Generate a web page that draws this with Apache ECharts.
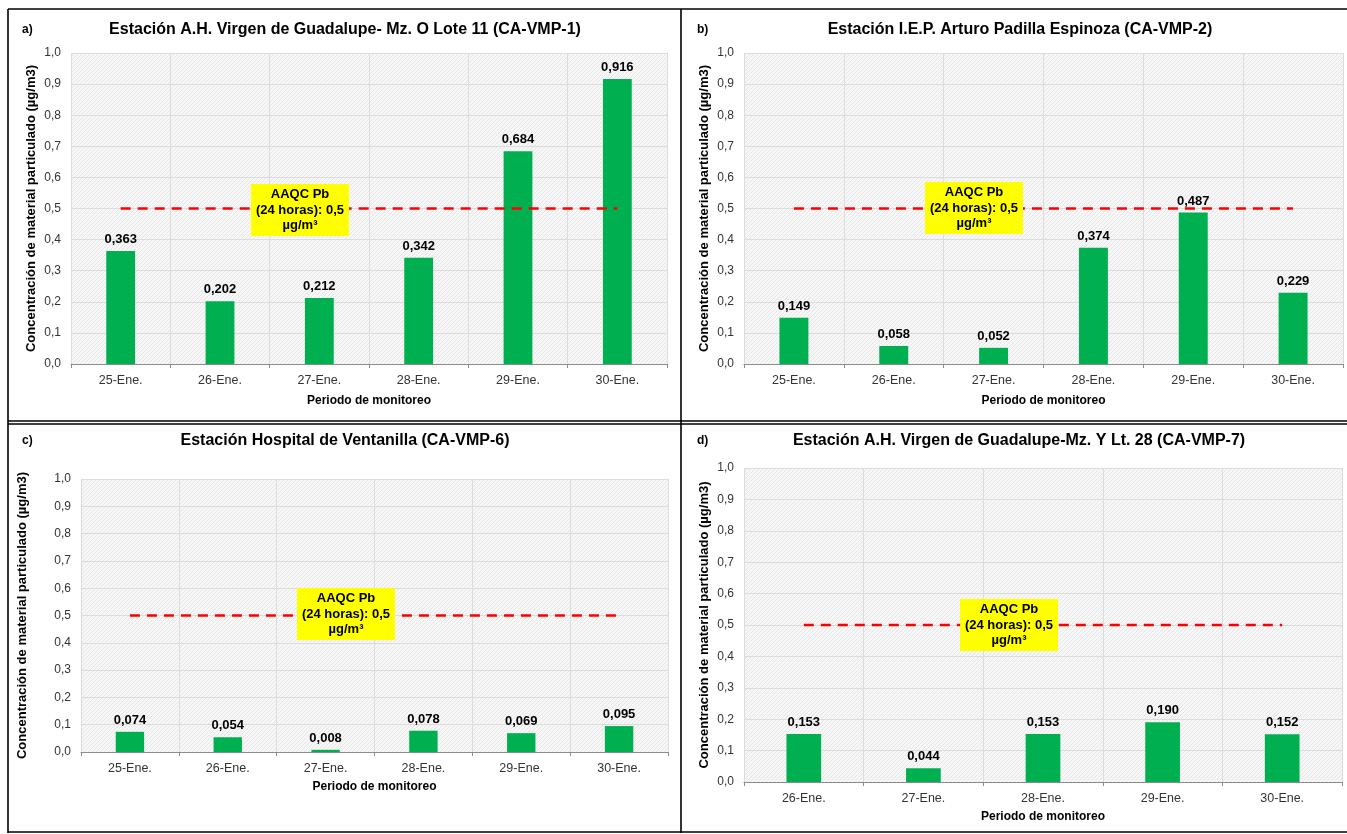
<!DOCTYPE html>
<html>
<head>
<meta charset="utf-8">
<script src="https://cdn.jsdelivr.net/npm/echarts@6/dist/echarts.min.js"></script>
<style>
html,body{margin:0;padding:0;background:#fff;}
#c{width:1347px;height:834px;}
</style>
</head>
<body>
<div id="c"></div>
<script>
// ---- data ----
const catsA = ['25-Ene.', '26-Ene.', '27-Ene.', '28-Ene.', '29-Ene.', '30-Ene.'];
const valsA = [0.363, 0.202, 0.212, 0.342, 0.684, 0.916];
const catsB = ['25-Ene.', '26-Ene.', '27-Ene.', '28-Ene.', '29-Ene.', '30-Ene.'];
const valsB = [0.149, 0.058, 0.052, 0.374, 0.487, 0.229];
const catsC = ['25-Ene.', '26-Ene.', '27-Ene.', '28-Ene.', '29-Ene.', '30-Ene.'];
const valsC = [0.074, 0.054, 0.008, 0.078, 0.069, 0.095];
const catsD = ['26-Ene.', '27-Ene.', '28-Ene.', '29-Ene.', '30-Ene.'];
const valsD = [0.153, 0.044, 0.153, 0.190, 0.152];
const limitValue = 0.5;
const titles = [
  'Estación A.H. Virgen de Guadalupe- Mz. O Lote 11 (CA-VMP-1)',
  'Estación I.E.P. Arturo Padilla Espinoza (CA-VMP-2)',
  'Estación Hospital de Ventanilla (CA-VMP-6)',
  'Estación A.H. Virgen de Guadalupe-Mz. Y Lt. 28 (CA-VMP-7)'
];
const panelLetters = ['a)', 'b)', 'c)', 'd)'];
const yName = 'Concentración de material particulado (µg/m3)';
const xName = 'Periodo de monitoreo';
const noteText = 'AAQC Pb\n(24 horas): 0,5\nµg/m³';

// ---- style ----
const FONT = '"Liberation Sans", Arial, sans-serif';
const chart = echarts.init(document.getElementById('c'), null, {renderer: 'canvas'});

// hatched background pattern
const pc = document.createElement('canvas');
pc.width = 4; pc.height = 4;
const pctx = pc.getContext('2d');
pctx.fillStyle = '#f7f7f7'; pctx.fillRect(0, 0, 4, 4);
pctx.strokeStyle = '#e6e6e6'; pctx.lineWidth = 1;
pctx.beginPath(); pctx.moveTo(0, 4); pctx.lineTo(4, 0); pctx.stroke();
pctx.beginPath(); pctx.moveTo(-1, 1); pctx.lineTo(1, -1); pctx.stroke();
pctx.beginPath(); pctx.moveTo(3, 5); pctx.lineTo(5, 3); pctx.stroke();

const grids = [
  {left: 71, width: 596, top: 53, height: 311, nameGap: 33, xGap: 31},
  {left: 744, width: 599, top: 53, height: 311, nameGap: 33, xGap: 31},
  {left: 81, width: 587, top: 479, height: 273, nameGap: 52, xGap: 29},
  {left: 744, width: 598, top: 468, height: 314, nameGap: 33, xGap: 29}
];
const cats = [catsA, catsB, catsC, catsD];
const vals = [valsA, valsB, valsC, valsD];
const fmt1 = v => v.toFixed(1).replace('.', ',');
const fmt3 = v => v.toFixed(3).replace('.', ',');

const option = {
  backgroundColor: '#fff',
  animation: false,
  textStyle: {fontFamily: FONT},
  grid: grids.map(g => ({
    left: g.left, top: g.top, width: g.width, height: g.height,
    show: true, backgroundColor: {image: pc, repeat: 'repeat'}, borderWidth: 0
  })),
  xAxis: grids.map((g, i) => ({
    type: 'category', gridIndex: i, data: cats[i],
    name: xName, nameLocation: 'middle', nameGap: g.xGap,
    nameTextStyle: {fontFamily: FONT, fontWeight: 'bold', fontSize: 12, color: '#000'},
    axisLine: {lineStyle: {color: '#8c8c8c', width: 1}},
    axisTick: {show: true, length: 4, lineStyle: {color: '#8c8c8c'}},
    axisLabel: {fontFamily: FONT, fontSize: 12.5, color: '#333', margin: 10},
    splitLine: {show: true, lineStyle: {color: '#dcdcdc', width: 1}}
  })),
  yAxis: grids.map((g, i) => ({
    type: 'value', gridIndex: i, min: 0, max: 1, interval: 0.1,
    name: yName, nameLocation: 'middle', nameGap: g.nameGap,
    nameTextStyle: {fontFamily: FONT, fontWeight: 'bold', fontSize: 13, color: '#000'},
    axisLine: {show: false}, axisTick: {show: false},
    axisLabel: {fontFamily: FONT, fontSize: 12, color: '#333', margin: 10, formatter: fmt1},
    splitLine: {show: true, lineStyle: {color: '#dcdcdc', width: 1}}
  })),
  series: [],
  graphic: []
};

vals.forEach((v, i) => {
  option.series.push({
    type: 'bar', xAxisIndex: i, yAxisIndex: i, data: v,
    barWidth: '29%',
    itemStyle: {color: '#00b050'},
    label: {show: true, position: 'top', distance: 5, fontFamily: FONT,
      fontWeight: 'bold', fontSize: 13, color: '#000', formatter: p => fmt3(p.value)}
  });
  option.series.push({
    type: 'line', xAxisIndex: i, yAxisIndex: i,
    data: cats[i].map(() => limitValue),
    symbol: 'none', silent: true,
    lineStyle: {color: '#ff0000', width: 2.5, type: [10, 7]},
    z: 3
  });
});

// titles and panel letters
const titlePos = [[345, 30], [1020, 30], [345, 441], [1019, 441]];
const letterPos = [[22, 30], [697, 30], [22, 441], [697, 441]];
titles.forEach((t, i) => {
  option.graphic.push({type: 'text', x: titlePos[i][0], y: titlePos[i][1], z: 50,
    style: {text: t, font: 'bold 16px ' + FONT, fill: '#000', align: 'center', verticalAlign: 'middle'}});
  option.graphic.push({type: 'text', x: letterPos[i][0], y: letterPos[i][1], z: 50,
    style: {text: panelLetters[i], font: 'bold 12px ' + FONT, fill: '#000', align: 'left', verticalAlign: 'middle'}});
});
// annotation boxes
const notePos = [[300, 210], [974, 208], [346, 614], [1009, 625]];
notePos.forEach(p => {
  option.graphic.push({type: 'rect', z: 100, zlevel: 1,
    shape: {x: p[0] - 49, y: p[1] - 26, width: 98, height: 52}, style: {fill: '#ffff00'}});
  option.graphic.push({type: 'text', z: 101, zlevel: 1, x: p[0], y: p[1],
    style: {text: noteText, font: 'bold 13px ' + FONT, fill: '#000',
      align: 'center', verticalAlign: 'middle', lineHeight: 15.5}});
});
// panel frames
const frameLines = [
  [8, 9, 1347, 9], [8, 9, 8, 833], [681, 9, 681, 833],
  [8, 421, 1347, 421], [8, 424, 1347, 424], [8, 832, 1347, 832]
];
frameLines.forEach(l => {
  option.graphic.push({type: 'line', z: 70, zlevel: 1, shape: {x1: l[0], y1: l[1], x2: l[2], y2: l[3]},
    style: {stroke: '#000', lineWidth: 1.6}});
});

chart.setOption(option);
</script>
</body>
</html>
